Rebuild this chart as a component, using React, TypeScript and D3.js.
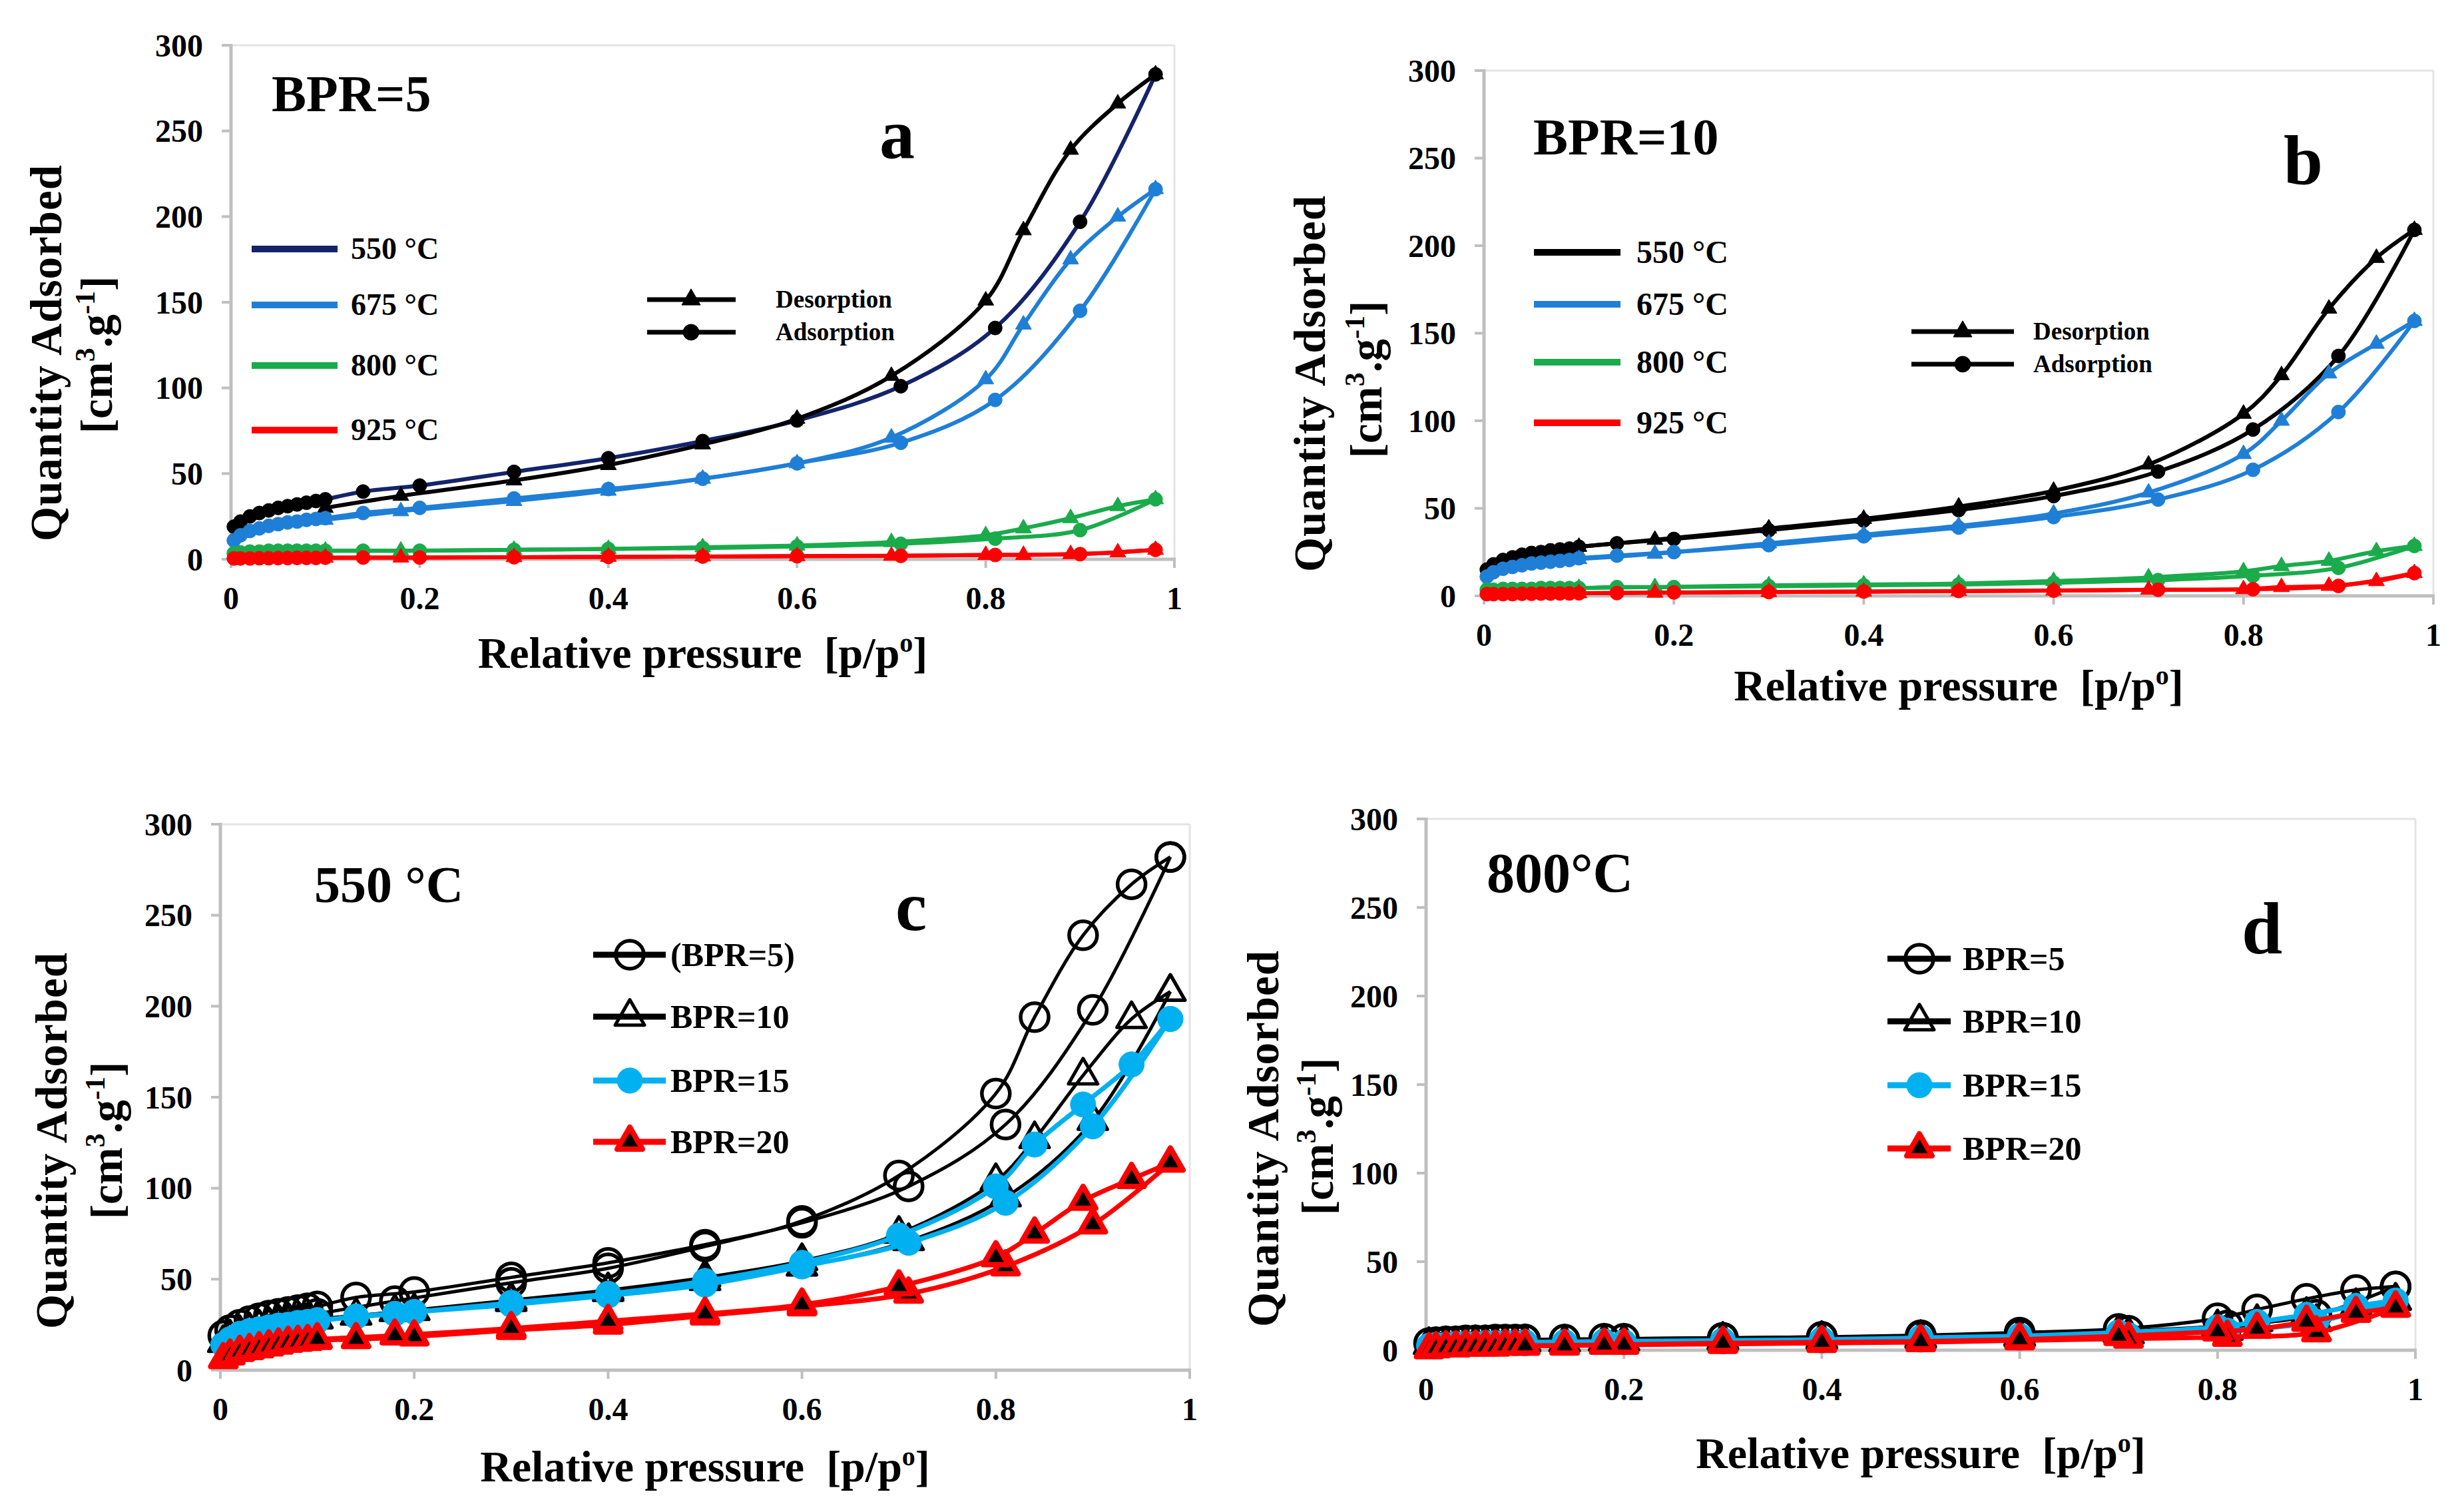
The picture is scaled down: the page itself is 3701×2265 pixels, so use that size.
import React from "react";
import * as d3 from "d3";

// ---------- DATA ----------
// relative pressure points (adsorption branch, ascending) and desorption branch (descending)
const adsP = [0.003, 0.01, 0.02, 0.03, 0.04, 0.05, 0.06, 0.07, 0.08, 0.09, 0.1, 0.14, 0.2, 0.3, 0.4, 0.5, 0.6, 0.71, 0.81, 0.9, 0.98];
const desP = [0.98, 0.94, 0.89, 0.84, 0.8, 0.7, 0.6, 0.5, 0.4, 0.3, 0.18, 0.1];

// Panel a: BPR=5, by temperature
const a550Ads = [19, 22, 25, 27, 28.5, 30, 31, 32, 33, 34, 35, 39.5, 43, 51, 59, 69, 81, 101, 135, 197, 283];
const a550Des = [283, 266, 239, 192, 151, 107, 82, 67, 55, 46, 37, 30];
const a675Ads = [11, 14, 16.5, 18, 19.5, 20.5, 21.5, 22, 23, 23.5, 24, 27, 30, 35.5, 41, 47, 56, 68, 93, 145, 216];
const a675Des = [216, 200, 175, 137, 105, 71, 56, 47, 40, 34, 28, 23];
const a800Ads = [3.5, 4, 4.5, 4.5, 5, 5, 5, 5, 5, 5, 5, 5, 5, 5.5, 6, 6.5, 7.5, 9, 12, 17, 35];
const a800Des = [35, 31, 24, 18, 14, 10, 8, 7, 6, 5.5, 5, 5];
const a925Ads = [0.5, 0.5, 0.5, 0.6, 0.6, 0.7, 0.7, 0.8, 0.8, 0.8, 0.9, 1, 1, 1.2, 1.4, 1.6, 1.8, 2, 2.5, 3, 5.5];
const a925Des = [5.5, 4, 3, 2.5, 2.5, 2, 1.8, 1.6, 1.4, 1.2, 1, 0.9];

// Panel b: BPR=10, by temperature
const b550Ads = [15, 18, 20.5, 22, 23.5, 24.5, 25, 26, 26.5, 27, 28, 30, 32.5, 37.5, 43, 49, 57, 71, 95, 137, 209];
const b550Des = [209, 193, 164, 126, 104, 75, 60, 51, 44, 38.5, 32, 28];
const b675Ads = [11, 13.5, 15.5, 16.5, 17.5, 18.5, 19, 19.5, 20, 20.5, 21.5, 23, 25, 29, 34, 39, 45, 55, 72, 105, 157];
const b675Des = [157, 144, 127, 100, 81, 59, 47, 40, 35, 30, 24, 21];
const b800Ads = [3.5, 3.5, 4, 4, 4, 4, 4.5, 4.5, 4.5, 4.5, 4.5, 5, 5, 5.5, 6, 6.5, 7.5, 9, 11.5, 16, 28.5];
const b800Des = [28.5, 25.5, 20, 17, 14, 10.5, 8.5, 7, 6.5, 6, 5, 4.5];
const b925Ads = [1, 1, 1, 1, 1.2, 1.2, 1.3, 1.3, 1.4, 1.4, 1.5, 1.6, 2, 2.2, 2.5, 2.8, 3, 3.5, 3.8, 5.7, 13];
const b925Des = [13, 8.4, 5.7, 5, 3.8, 3.5, 3, 2.7, 2.4, 2.2, 1.8, 1.5];

// Panel c: 550 °C, by BPR
const c5Ads = [19, 22, 25, 27, 28.5, 30, 31, 32, 33, 34, 35, 40, 43, 51, 59, 69, 81, 101, 135, 198, 282];
const c5Des = [282, 267, 239, 194, 152, 107, 82, 68, 56, 48, 38, 31];
const c10Ads = [15, 18, 20.5, 22, 23.5, 24.5, 25, 26, 26.5, 27, 28, 30, 32.5, 37.5, 43, 49, 57, 71, 95, 137, 208];
const c10Des = [208, 193, 162, 127, 104, 75, 60, 51, 44, 38.5, 32, 28];
const c15Ads = [14, 17, 20, 21.5, 22.5, 23.5, 24.5, 25, 26, 26.5, 27, 29.5, 32, 36, 41, 47, 57, 70, 92, 134, 193];
const c15Des = [193, 168, 146, 124, 101, 74, 59, 49, 42, 37, 31, 27.5];
const c20Ads = [6, 8, 10, 11, 12, 13, 14, 15, 15.5, 16, 16.5, 17, 18.5, 22, 25, 30, 35, 42, 57, 80, 114];
const c20Des = [114, 105, 93, 75, 62, 46, 36, 31, 27, 23, 19, 17];

// Panel d: 800 °C, by BPR
const d5Ads = [4, 4.5, 5, 5, 5.5, 5.5, 5.5, 6, 6, 6, 6, 6, 6.5, 7, 7.5, 8, 9, 11, 14, 20, 36];
const d5Des = [36, 34, 29, 23, 18, 12, 10, 8.5, 7.5, 7, 6.5, 6];
const d10Ads = [3, 3, 3.5, 3.5, 3.5, 4, 4, 4, 4, 4, 4.5, 4.5, 5, 5.5, 6, 6.5, 7.5, 9, 11, 16, 28];
const d10Des = [28, 25, 20, 16, 13, 10, 8, 7, 6.5, 6, 5, 4.5];
const d15Ads = [2.5, 3, 3, 3.5, 3.5, 3.5, 4, 4, 4, 4, 4, 4.5, 4.5, 5, 5.5, 6, 7, 8.5, 11, 16, 28];
const d15Des = [28, 25, 20, 16, 13, 10, 8, 7, 6, 5.5, 5, 4.5];
const d20Ads = [0.5, 1, 1.5, 1.5, 2, 2, 2, 2, 2.5, 2.5, 2.5, 2.5, 3, 3.5, 4, 4.5, 5.5, 6.5, 7.5, 10, 24];
const d20Des = [24, 21, 16, 12, 10.5, 8, 6, 5, 4.5, 4, 3, 2.5];

const tempLabels = ["550 °C", "675 °C", "800 °C", "925 °C"];
const bprLabelsC = ["(BPR=5)", "BPR=10", "BPR=15", "BPR=20"];
const bprLabelsD = ["BPR=5", "BPR=10", "BPR=15", "BPR=20"];
const branchLabels = ["Desorption", "Adsorption"];
const xTicks = [0, 0.2, 0.4, 0.6, 0.8, 1];
const yTicks = [0, 50, 100, 150, 200, 250, 300];

// ---------- STYLE ----------
const FONT = "'Liberation Serif', 'Times New Roman', Times, serif";
const AXIS = "#bfbfbf";
const FRAME = "#e4e4e4";

type Mk = { type: "circle" | "triangle"; size: number; fill: string; stroke: string; sw: number };
type Series = {
  ads: number[]; des: number[];
  adsColor: string; desColor: string; lw: number;
  adsMk: Mk; desMk: Mk;
};

const mkPath = (m: Mk) =>
  m.type === "circle"
    ? d3.symbol().type(d3.symbolCircle).size(Math.PI * m.size * m.size)()
    : d3.symbol().type(d3.symbolTriangle).size((Math.sqrt(3) / 4) * m.size * m.size)();

function Marker({ m, cx, cy }: { m: Mk; cx: number; cy: number }) {
  return (
    <path d={mkPath(m) as string} transform={`translate(${cx},${cy})`}
      fill={m.fill} stroke={m.stroke} strokeWidth={m.sw} strokeLinejoin="round" />
  );
}

type Geo = { x0: number; x1: number; y0: number; y1: number };

function Axes({ g }: { g: Geo }) {
  const x = d3.scaleLinear().domain([0, 1]).range([g.x0, g.x1]);
  const y = d3.scaleLinear().domain([0, 300]).range([g.y0, g.y1]);
  return (
    <g>
      <line x1={g.x0} x2={g.x1} y1={g.y1} y2={g.y1} stroke={FRAME} strokeWidth={3} />
      <line x1={g.x1} x2={g.x1} y1={g.y1} y2={g.y0} stroke={FRAME} strokeWidth={3} />
      <line x1={g.x0} x2={g.x0} y1={g.y1 - 2} y2={g.y0 + 2} stroke={AXIS} strokeWidth={5} />
      <line x1={g.x0 - 2} x2={g.x1 + 2} y1={g.y0} y2={g.y0} stroke={AXIS} strokeWidth={5} />
      {yTicks.map((t) => (
        <g key={"y" + t}>
          <line x1={g.x0 - 14} x2={g.x0} y1={y(t)} y2={y(t)} stroke={AXIS} strokeWidth={4} />
          <text x={g.x0 - 42} y={y(t)} dy="0.35em" textAnchor="end" fontSize={48}
            fontWeight="bold" fontFamily={FONT}>{t}</text>
        </g>
      ))}
      {xTicks.map((t) => (
        <g key={"x" + t}>
          <line x1={x(t)} x2={x(t)} y1={g.y0} y2={g.y0 + 13} stroke={AXIS} strokeWidth={4} />
          <text x={x(t)} y={g.y0 + 75} textAnchor="middle" fontSize={48}
            fontWeight="bold" fontFamily={FONT}>{t}</text>
        </g>
      ))}
    </g>
  );
}

function SeriesView({ g, s }: { g: Geo; s: Series }) {
  const x = d3.scaleLinear().domain([0, 1]).range([g.x0, g.x1]);
  const y = d3.scaleLinear().domain([0, 300]).range([g.y0, g.y1]);
  const line = d3.line<number[]>().x((d) => x(d[0])).y((d) => y(d[1])).curve(d3.curveCatmullRom.alpha(0.5));
  const a = adsP.map((p, i) => [p, s.ads[i]]);
  const d = desP.map((p, i) => [p, s.des[i]]);
  return (
    <g>
      <path d={line(a) as string} fill="none" stroke={s.adsColor} strokeWidth={s.lw} strokeLinejoin="round" />
      <path d={line(d) as string} fill="none" stroke={s.desColor} strokeWidth={s.lw} strokeLinejoin="round" />
      {a.map((p, i) => <Marker key={"a" + i} m={s.adsMk} cx={x(p[0])} cy={y(p[1])} />)}
      {d.map((p, i) => <Marker key={"d" + i} m={s.desMk} cx={x(p[0])} cy={y(p[1])} />)}
    </g>
  );
}

function YTitle({ l1x, l1y, l2x, l2y }: { l1x: number; l1y: number; l2x: number; l2y: number }) {
  return (
    <g fontFamily={FONT} fontWeight="bold" fontSize={67}>
      <text transform={`translate(${l1x},${l1y}) rotate(-90)`} textAnchor="middle" letterSpacing={1}>Quantity Adsorbed</text>
      <text transform={`translate(${l2x},${l2y}) rotate(-90)`} textAnchor="middle">
        [cm<tspan fontSize={42} dy={-26}>3</tspan><tspan dy={26}>.g</tspan>
        <tspan fontSize={42} dy={-26}>-1</tspan><tspan dy={26}>]</tspan>
      </text>
    </g>
  );
}

function XTitle({ cx, y }: { cx: number; y: number }) {
  return (
    <text x={cx} y={y} textAnchor="middle" fontFamily={FONT} fontWeight="bold" fontSize={66}
      style={{ whiteSpace: "pre" }}>{"Relative pressure  [p/p"}<tspan fontSize={40} dy={-24}>o</tspan><tspan dy={24}>]</tspan></text>
  );
}

const small = (type: "circle" | "triangle", c: string): Mk =>
  type === "circle" ? { type, size: 10.5, fill: c, stroke: c, sw: 1 } : { type, size: 24, fill: c, stroke: c, sw: 1 };

const tempColors = ["#14246b", "#1f7fd6", "#1aab4b", "#ff0000"];

function tempSeries(ads: number[][], des: number[][], first550Navy: boolean): Series[] {
  return ads.map((a, i) => {
    const c = tempColors[i];
    const is550 = i === 0;
    const mkc = is550 ? "#000" : c;
    return {
      ads: a, des: des[i],
      adsColor: is550 ? (first550Navy ? "#14246b" : "#000") : c,
      desColor: is550 ? "#000" : c,
      lw: 6,
      adsMk: small("circle", mkc), desMk: small("triangle", mkc),
    };
  });
}

const openCircle: Mk = { type: "circle", size: 21, fill: "none", stroke: "#000", sw: 5.5 };
const openTri: Mk = { type: "triangle", size: 44, fill: "none", stroke: "#000", sw: 5 };
const cyanCircle: Mk = { type: "circle", size: 19, fill: "#00b0f0", stroke: "#00b0f0", sw: 1 };
const redTri: Mk = { type: "triangle", size: 38, fill: "#000", stroke: "#ff0000", sw: 8 };

function bprSeries(ads: number[][], des: number[][]): Series[] {
  const mks = [openCircle, openTri, cyanCircle, redTri];
  const cols = ["#000", "#000", "#00b0f0", "#ff0000"];
  const lws = [5, 5, 7, 7];
  return ads.map((a, i) => ({
    ads: a, des: des[i], adsColor: cols[i], desColor: cols[i], lw: lws[i], adsMk: mks[i], desMk: mks[i],
  }));
}

function TempLegend({ lx0, lx1, ys, tx, fs, navy }: { lx0: number; lx1: number; ys: number[]; tx: number; fs: number; navy: boolean }) {
  return (
    <g>
      {tempLabels.map((t, i) => (
        <g key={t}>
          <line x1={lx0} x2={lx1} y1={ys[i]} y2={ys[i]} stroke={i === 0 ? (navy ? "#14246b" : "#000") : tempColors[i]} strokeWidth={10} />
          <text x={tx} y={ys[i] + fs * 0.33} fontSize={fs} fontWeight="bold" fontFamily={FONT} style={{ whiteSpace: "pre" }}>{t}</text>
        </g>
      ))}
    </g>
  );
}

function BranchLegend({ lx0, lx1, mx, ys, tx }: { lx0: number; lx1: number; mx: number; ys: number[]; tx: number }) {
  const tri: Mk = { type: "triangle", size: 28, fill: "#000", stroke: "#000", sw: 1 };
  const cir: Mk = { type: "circle", size: 12, fill: "#000", stroke: "#000", sw: 1 };
  const mks = [tri, cir];
  return (
    <g>
      {branchLabels.map((t, i) => (
        <g key={t}>
          <line x1={lx0} x2={lx1} y1={ys[i]} y2={ys[i]} stroke="#000" strokeWidth={7} />
          <Marker m={mks[i]} cx={mx} cy={ys[i]} />
          <text x={tx} y={ys[i] + 12} fontSize={37} fontWeight="bold" fontFamily={FONT}>{t}</text>
        </g>
      ))}
    </g>
  );
}

function BprLegend({ lx0, lx1, mx, ys, tx, labels }: { lx0: number; lx1: number; mx: number; ys: number[]; tx: number; labels: string[] }) {
  const mks = [openCircle, openTri, cyanCircle, redTri];
  const cols = ["#000", "#000", "#00b0f0", "#ff0000"];
  return (
    <g>
      {labels.map((t, i) => (
        <g key={t}>
          <line x1={lx0} x2={lx1} y1={ys[i]} y2={ys[i]} stroke={cols[i]} strokeWidth={9} />
          <Marker m={mks[i]} cx={mx} cy={ys[i]} />
          <text x={tx} y={ys[i] + 17} fontSize={50} fontWeight="bold" fontFamily={FONT}>{t}</text>
        </g>
      ))}
    </g>
  );
}

const Big = ({ x, y, fs, children }: { x: number; y: number; fs: number; children: React.ReactNode }) => (
  <text x={x} y={y} fontSize={fs} fontWeight="bold" fontFamily={FONT} style={{ whiteSpace: "pre" }}>{children}</text>
);

export default function App() {
  const ga: Geo = { x0: 347, x1: 1764, y0: 840, y1: 68 };
  const gb: Geo = { x0: 2229, x1: 3655, y0: 895, y1: 106 };
  const gc: Geo = { x0: 331, x1: 1787, y0: 2058, y1: 1238 };
  const gd: Geo = { x0: 2142, x1: 3628, y0: 2028, y1: 1230 };

  const sa = tempSeries([a550Ads, a675Ads, a800Ads, a925Ads], [a550Des, a675Des, a800Des, a925Des], true);
  const sb = tempSeries([b550Ads, b675Ads, b800Ads, b925Ads], [b550Des, b675Des, b800Des, b925Des], false);
  const sc = bprSeries([c5Ads, c10Ads, c15Ads, c20Ads], [c5Des, c10Des, c15Des, c20Des]);
  const sd = bprSeries([d5Ads, d10Ads, d15Ads, d20Ads], [d5Des, d10Des, d15Des, d20Des]);

  return (
    <svg width={3701} height={2265} viewBox="0 0 3701 2265"
      style={{ position: "absolute", left: 0, top: 0, display: "block", background: "#fff" }}>
      <rect x={0} y={0} width={3701} height={2265} fill="#fff" />

      {/* Panel a */}
      <Axes g={ga} />
      {sa.map((s, i) => <SeriesView key={"a" + i} g={ga} s={s} />)}
      <TempLegend lx0={378} lx1={507} ys={[374, 458, 549, 646]} tx={527} fs={46} navy={true} />
      <BranchLegend lx0={972} lx1={1105} mx={1038} ys={[450, 499]} tx={1165} />
      <Big x={408} y={167} fs={78}>BPR=5</Big>
      <Big x={1321} y={237} fs={106}>a</Big>
      <YTitle l1x={92} l1y={530} l2x={168} l2y={533} />
      <XTitle cx={(ga.x0 + ga.x1) / 2} y={1003} />

      {/* Panel b */}
      <Axes g={gb} />
      {sb.map((s, i) => <SeriesView key={"b" + i} g={gb} s={s} />)}
      <TempLegend lx0={2304} lx1={2434} ys={[379, 457, 544, 635]} tx={2458} fs={48} navy={false} />
      <BranchLegend lx0={2871} lx1={3025} mx={2948} ys={[498, 547]} tx={3054} />
      <Big x={2303} y={232} fs={78}>BPR=10</Big>
      <Big x={3430} y={277} fs={106}>b</Big>
      <YTitle l1x={1990} l1y={576} l2x={2075} l2y={570} />
      <XTitle cx={(gb.x0 + gb.x1) / 2} y={1052} />

      {/* Panel c */}
      <Axes g={gc} />
      {sc.map((s, i) => <SeriesView key={"c" + i} g={gc} s={s} />)}
      <BprLegend lx0={891} lx1={1000} mx={946} ys={[1434, 1527, 1623, 1715]} tx={1007} labels={bprLabelsC} />
      <Big x={472} y={1355} fs={78}>550 °C</Big>
      <Big x={1345} y={1397} fs={106}>c</Big>
      <YTitle l1x={100} l1y={1713} l2x={183} l2y={1713} />
      <XTitle cx={(gc.x0 + gc.x1) / 2} y={2225} />

      {/* Panel d */}
      <Axes g={gd} />
      {sd.map((s, i) => <SeriesView key={"d" + i} g={gd} s={s} />)}
      <BprLegend lx0={2835} lx1={2930} mx={2883} ys={[1440, 1534, 1630, 1725]} tx={2948} labels={bprLabelsD} />
      <Big x={2233} y={1340} fs={84}>800°C</Big>
      <Big x={3367} y={1432} fs={110}>d</Big>
      <YTitle l1x={1920} l1y={1710} l2x={2002} l2y={1707} />
      <XTitle cx={(gd.x0 + gd.x1) / 2} y={2205} />
    </svg>
  );
}
